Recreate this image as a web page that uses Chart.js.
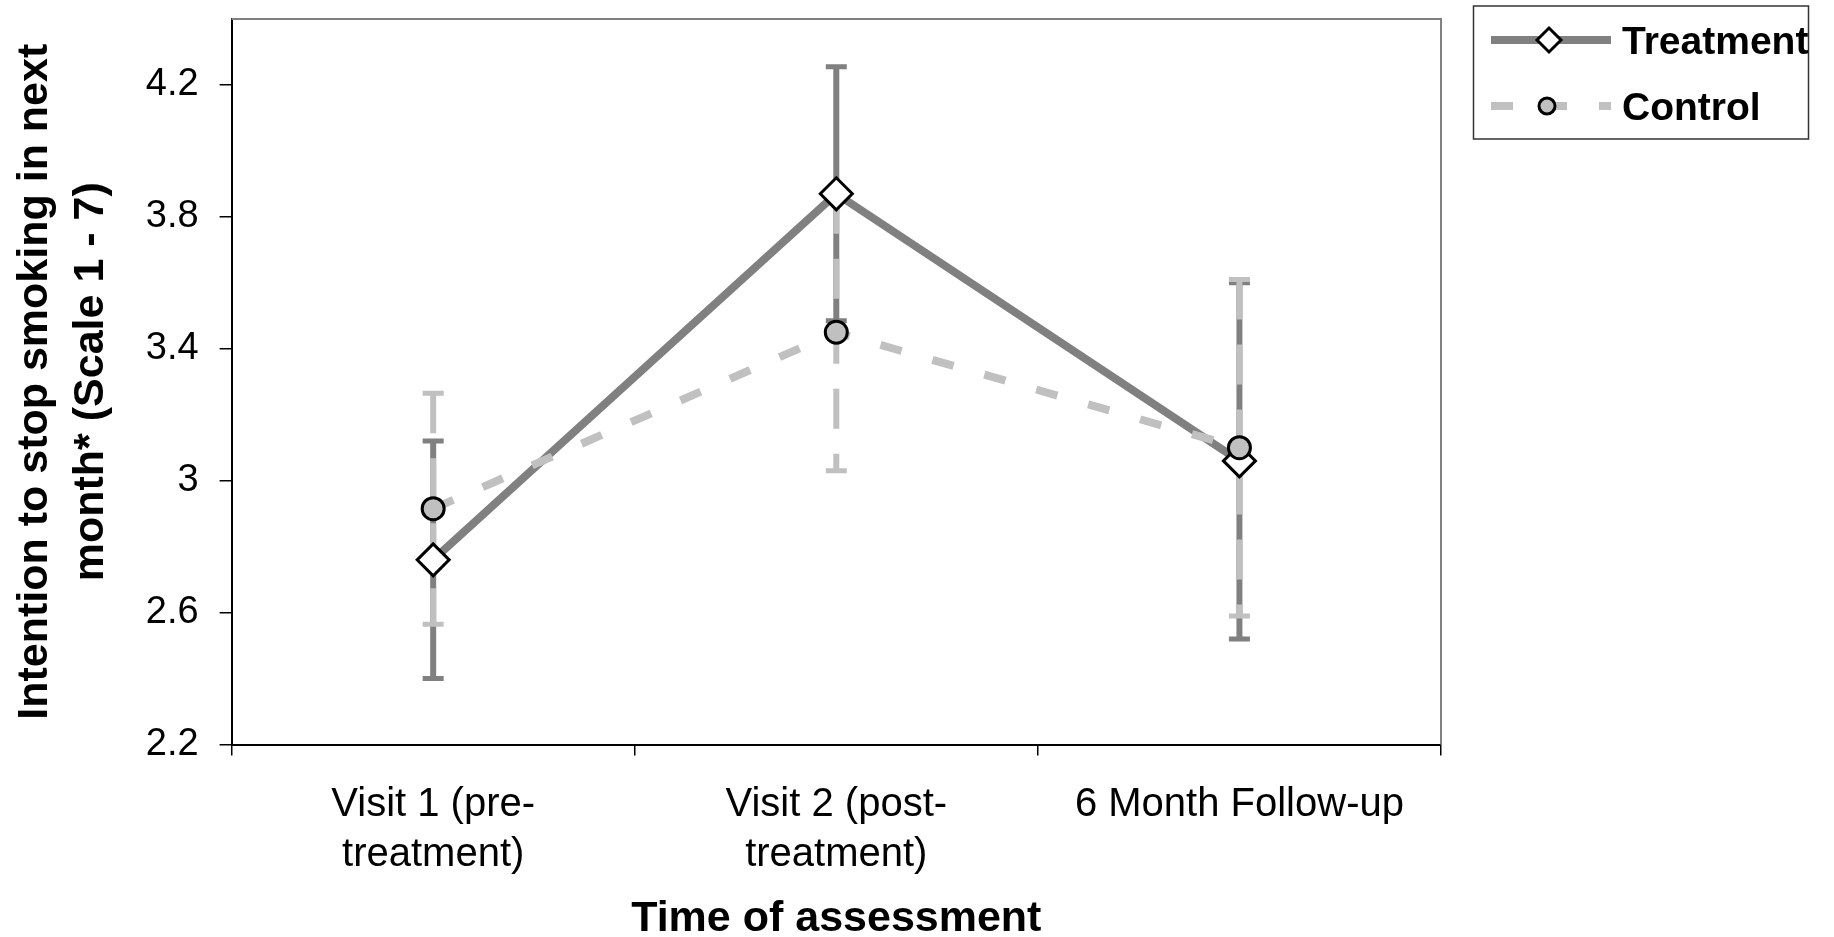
<!DOCTYPE html>
<html>
<head>
<meta charset="utf-8">
<script src="https://cdn.jsdelivr.net/npm/chart.js@4.4.1/dist/chart.umd.min.js"></script>
<style>
  html, body { margin: 0; padding: 0; background: #fff; }
</style>
</head>
<body>
<canvas id="chart" width="1834" height="937"></canvas>
<script>
// values
const categories = [["Visit 1 (pre-", "treatment)"], ["Visit 2 (post-", "treatment)"], "6 Month Follow-up"];
const treatmentMean = [2.76, 3.87, 3.06];
const treatmentErr = [0.36, 0.385, 0.54];
const controlMean = [2.915, 3.45, 3.10];
const controlErr = [0.35, 0.42, 0.51];
const yTicks = [2.2, 2.6, 3, 3.4, 3.8, 4.2];
const yMin = 2.2;
const yMax = 4.4;

const FONT = "'Liberation Sans', Arial, sans-serif";
const DARK = "#808080";
const LIGHT = "#C0C0C0";

// error bars + the grey frame on top/right of the plot
const errorBars = {
  id: "errorBars",
  beforeDatasetsDraw(chart) {
    const ctx = chart.ctx;
    const area = chart.chartArea;
    const x = chart.scales.x;
    const y = chart.scales.y;

    ctx.save();
    ctx.strokeStyle = DARK;
    ctx.lineWidth = 2;
    ctx.beginPath();
    ctx.moveTo(area.left, area.top);
    ctx.lineTo(area.right, area.top);
    ctx.lineTo(area.right, area.bottom);
    ctx.stroke();

    chart.data.datasets.forEach((ds) => {
      ds.data.forEach((v, i) => {
        const px = x.getPixelForValue(i);
        const top = y.getPixelForValue(v + ds.errors[i]);
        const bot = y.getPixelForValue(v - ds.errors[i]);
        ctx.strokeStyle = ds.borderColor;
        ctx.lineWidth = 6;
        ctx.lineCap = "butt";
        ctx.setLineDash(ds.errorDash);
        ctx.beginPath();
        ctx.moveTo(px, top);
        ctx.lineTo(px, bot);
        ctx.stroke();
        ctx.setLineDash([]);
        ctx.lineWidth = 5;
        ctx.beginPath();
        ctx.moveTo(px - 10.5, top);
        ctx.lineTo(px + 10.5, top);
        ctx.moveTo(px - 10.5, bot);
        ctx.lineTo(px + 10.5, bot);
        ctx.stroke();
      });
    });
    ctx.restore();
  }
};

// boxed legend at the top right, outside the plot
const boxLegend = {
  id: "boxLegend",
  afterDraw(chart) {
    const ctx = chart.ctx;
    ctx.save();
    ctx.strokeStyle = "#333";
    ctx.lineWidth = 1.5;
    ctx.strokeRect(1473.5, 6, 335, 133);

    const rows = [40, 106];
    chart.data.datasets.forEach((ds, i) => {
      const ly = rows[i];
      ctx.strokeStyle = ds.borderColor;
      ctx.lineWidth = 8;
      ctx.setLineDash(ds.borderDash || []);
      ctx.beginPath();
      ctx.moveTo(1491, ly);
      ctx.lineTo(1611, ly);
      ctx.stroke();
      ctx.setLineDash([]);

      ctx.fillStyle = ds.pointBackgroundColor;
      ctx.strokeStyle = "#000";
      ctx.lineWidth = 3;
      ctx.beginPath();
      if (ds.pointStyle === "rectRot") {
        const r = 12, cx = 1549;
        ctx.moveTo(cx, ly - r);
        ctx.lineTo(cx + r, ly);
        ctx.lineTo(cx, ly + r);
        ctx.lineTo(cx - r, ly);
        ctx.closePath();
      } else {
        ctx.arc(1547, ly, 8, 0, Math.PI * 2);
      }
      ctx.fill();
      ctx.stroke();

      ctx.fillStyle = "#000";
      ctx.font = "bold 39px " + FONT;
      ctx.textBaseline = "middle";
      ctx.textAlign = "left";
      ctx.fillText(ds.label, 1622, ly + 3);
    });
    ctx.restore();
  }
};

new Chart(document.getElementById("chart"), {
  type: "line",
  data: {
    labels: categories,
    datasets: [
      {
        label: "Treatment",
        data: treatmentMean,
        errors: treatmentErr,
        errorDash: [],
        order: 2,
        borderColor: DARK,
        borderWidth: 8,
        pointStyle: "rectRot",
        pointRadius: 16,
        pointBackgroundColor: "#fff",
        pointBorderColor: "#000",
        pointBorderWidth: 3,
        tension: 0
      },
      {
        label: "Control",
        data: controlMean,
        errors: controlErr,
        errorDash: [40, 25],
        order: 1,
        borderColor: LIGHT,
        borderWidth: 8,
        borderDash: [22, 32],
        pointStyle: "circle",
        pointRadius: 11,
        pointBackgroundColor: LIGHT,
        pointBorderColor: "#000",
        pointBorderWidth: 3,
        tension: 0
      }
    ]
  },
  options: {
    responsive: false,
    animation: false,
    devicePixelRatio: 1,
    layout: { padding: { left: 0, top: 17.7, right: 393, bottom: 0 } },
    plugins: { legend: { display: false }, tooltip: { enabled: false } },
    scales: {
      x: {
        offset: true,
        grid: { offset: true, drawOnChartArea: false, tickLength: 11, color: "#000", lineWidth: 1.5 },
        border: { color: "#000", width: 2 },
        ticks: { color: "#000", padding: 24, font: { family: FONT, size: 40, lineHeight: 1.25 } },
        title: {
          display: true,
          text: "Time of assessment",
          color: "#000",
          padding: { top: 0, bottom: 0 },
          font: { family: FONT, size: 43, weight: "bold", lineHeight: 0.85 }
        },
        afterFit(scale) {
          scale.height = 937 - 744.5;
          scale.paddingLeft = 0;
          scale.paddingRight = 0;
        }
      },
      y: {
        min: yMin,
        max: yMax,
        afterBuildTicks(scale) {
          scale.ticks = yTicks.map((v) => ({ value: v }));
        },
        grid: { drawOnChartArea: false, tickLength: 12, color: "#000", lineWidth: 1.5 },
        border: { color: "#000", width: 2 },
        ticks: {
          color: "#000",
          padding: 21,
          font: { family: FONT, size: 38 },
          callback: (v) => String(v)
        },
        title: {
          display: true,
          text: ["Intention to stop smoking in next", "month* (Scale 1 - 7)"],
          color: "#000",
          padding: { top: 7, bottom: 0 },
          font: { family: FONT, size: 43, weight: "bold", lineHeight: 1.3 }
        },
        afterFit(scale) {
          scale.width = 231.6;
          scale.paddingTop = 0;
          scale.paddingBottom = 0;
        }
      }
    }
  },
  plugins: [errorBars, boxLegend]
});
</script>
</body>
</html>
